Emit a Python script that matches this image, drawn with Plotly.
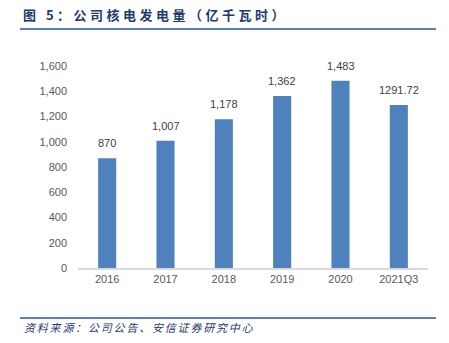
import plotly.graph_objects as go

# Nuclear power generation by year (100 million kWh)
categories = ["2016", "2017", "2018", "2019", "2020", "2021Q3"]
values = [870, 1007, 1178, 1362, 1483, 1291.72]
value_labels = [f"{v:,.0f}" for v in values[:-1]] + [f"{values[-1]:.2f}"]
y_ticks = [0, 200, 400, 600, 800, 1000, 1200, 1400, 1600]

title_text = "图 5：公司核电发电量（亿千瓦时）"
source_text = "资料来源：公司公告、安信证券研究中心"

bar_color = "#4F81BD"
tick_color = "#595959"
heading_color = "#1F3A6E"
rule_color = "#5B7DB8"

fig = go.Figure(
    go.Bar(
        x=categories,
        y=values,
        cliponaxis=False,
        marker=dict(color=bar_color, line=dict(width=0)),
    )
)

# Value labels sitting above each bar (category index positions)
for idx, (val, label) in enumerate(zip(values, value_labels)):
    fig.add_annotation(
        x=idx, y=val, text=label,
        showarrow=False,
        yanchor="bottom", yshift=7,
        font=dict(family="Liberation Sans, Arial", size=11, color="#404040"),
    )

fig.update_layout(
    width=449,
    height=343,
    margin=dict(l=78, r=21, t=66, b=75),
    plot_bgcolor="white",
    paper_bgcolor="white",
    showlegend=False,
    bargap=0.69,
    font=dict(family="Liberation Sans, Arial", size=11, color=tick_color),
)

fig.update_xaxes(
    type="category",
    range=[-0.5, len(categories) - 0.5],
    showgrid=False,
    showline=True,
    linecolor="#D9D9D9",
    linewidth=1.5,
    ticks="",
    tickfont=dict(size=11, color=tick_color),
)
fig.update_yaxes(
    range=[0, 1600],
    tickvals=y_ticks,
    tickformat=",",
    showgrid=False,
    zeroline=False,
    showline=False,
    ticks="",
    ticklabelstandoff=10,
    tickfont=dict(size=11, color=tick_color),
)

# Heading, source note and the two blue rules
fig.add_annotation(
    text=f"<span style='letter-spacing:3.5px'><b>{title_text}</b></span>",
    xref="paper", yref="paper",
    x=(21 - 78) / 350, y=(268 - 14) / 202,
    xanchor="left", yanchor="middle",
    showarrow=False,
    font=dict(family="Noto Sans CJK SC", size=13, color=heading_color),
)
fig.add_annotation(
    text=f"<span style='letter-spacing:1.8px'><i>{source_text}</i></span>",
    xref="paper", yref="paper",
    x=(22 - 78) / 350, y=(268 - 327) / 202,
    xanchor="left", yanchor="middle",
    showarrow=False,
    font=dict(family="Noto Sans CJK SC", size=11, color=heading_color),
)
for y_px in (29, 318):
    fig.add_shape(
        type="line",
        xref="paper", yref="paper",
        x0=(20 - 78) / 350, x1=(436 - 78) / 350,
        y0=(268 - y_px) / 202, y1=(268 - y_px) / 202,
        line=dict(color=rule_color, width=2),
    )

fig.write_html("out.html")
